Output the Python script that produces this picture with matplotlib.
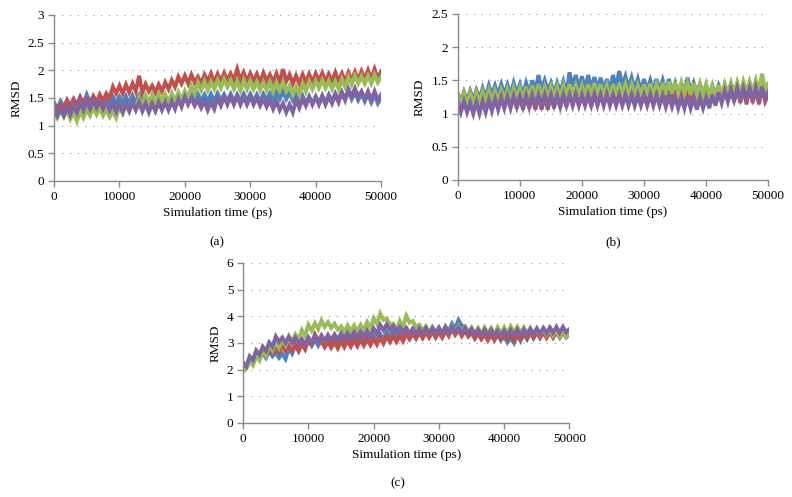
import numpy as np
import matplotlib
matplotlib.use("Agg")
import matplotlib.pyplot as plt

plt.rcParams["font.family"] = ["Liberation Serif", "DejaVu Serif"]

# time axis: one sample every 500 ps
time_ps = np.arange(0, 50001, 500)

# ---- panel (a) ----
a_blue = [1.42, 1.30, 1.44, 1.34, 1.46, 1.36, 1.48, 1.38, 1.52, 1.40,
          1.56, 1.42, 1.52, 1.40, 1.50, 1.38, 1.48, 1.36, 1.52, 1.40,
          1.52, 1.40, 1.53, 1.40, 1.54, 1.42, 1.55, 1.42, 1.54, 1.42,
          1.52, 1.40, 1.51, 1.40, 1.52, 1.40, 1.53, 1.42, 1.56, 1.44,
          1.57, 1.44, 1.58, 1.45, 1.57, 1.44, 1.56, 1.44, 1.57, 1.44,
          1.58, 1.45, 1.56, 1.44, 1.57, 1.44, 1.56, 1.44, 1.57, 1.45,
          1.57, 1.44, 1.56, 1.44, 1.57, 1.46, 1.58, 1.46, 1.60, 1.48,
          1.62, 1.48, 1.60, 1.46, 1.56, 1.42, 1.54, 1.40, 1.52, 1.40,
          1.52, 1.40, 1.54, 1.42, 1.56, 1.44, 1.58, 1.46, 1.60, 1.48,
          1.62, 1.48, 1.60, 1.46, 1.58, 1.44, 1.56, 1.42, 1.55, 1.40,
          1.50]
a_red = [1.36, 1.24, 1.38, 1.28, 1.45, 1.33, 1.47, 1.36, 1.50, 1.38,
         1.49, 1.40, 1.53, 1.42, 1.56, 1.45, 1.58, 1.50, 1.70, 1.58,
         1.72, 1.58, 1.74, 1.60, 1.76, 1.62, 1.90, 1.60, 1.75, 1.62,
         1.72, 1.60, 1.74, 1.62, 1.78, 1.66, 1.82, 1.70, 1.88, 1.76,
         1.90, 1.76, 1.92, 1.78, 1.88, 1.76, 1.92, 1.80, 1.94, 1.78,
         1.93, 1.80, 1.95, 1.81, 1.94, 1.82, 2.02, 1.82, 1.96, 1.80,
         1.94, 1.80, 1.93, 1.78, 1.95, 1.80, 1.92, 1.78, 1.94, 1.78,
         2.02, 1.80, 1.92, 1.76, 1.90, 1.76, 1.92, 1.78, 1.93, 1.78,
         1.94, 1.80, 1.95, 1.80, 1.93, 1.80, 1.96, 1.80, 1.94, 1.80,
         1.96, 1.82, 1.97, 1.82, 1.98, 1.84, 2.00, 1.84, 2.02, 1.84,
         1.98]
a_green = [1.26, 1.14, 1.28, 1.16, 1.27, 1.12, 1.24, 1.08, 1.26, 1.14,
           1.30, 1.18, 1.32, 1.20, 1.31, 1.18, 1.29, 1.16, 1.26, 1.14,
           1.34, 1.22, 1.38, 1.26, 1.42, 1.30, 1.50, 1.36, 1.54, 1.40,
           1.56, 1.42, 1.57, 1.44, 1.56, 1.42, 1.58, 1.44, 1.60, 1.46,
           1.62, 1.48, 1.72, 1.58, 1.78, 1.64, 1.80, 1.64, 1.79, 1.66,
           1.82, 1.68, 1.84, 1.70, 1.82, 1.66, 1.80, 1.64, 1.82, 1.66,
           1.81, 1.66, 1.79, 1.64, 1.78, 1.64, 1.79, 1.62, 1.78, 1.64,
           1.78, 1.62, 1.72, 1.56, 1.70, 1.56, 1.76, 1.62, 1.80, 1.66,
           1.81, 1.68, 1.82, 1.68, 1.81, 1.66, 1.80, 1.66, 1.84, 1.70,
           1.88, 1.74, 1.90, 1.76, 1.89, 1.76, 1.90, 1.76, 1.92, 1.78,
           1.88]
a_purple = [1.32, 1.18, 1.31, 1.18, 1.34, 1.20, 1.36, 1.24, 1.42, 1.28,
            1.45, 1.30, 1.46, 1.32, 1.44, 1.30, 1.42, 1.28, 1.40, 1.25,
            1.38, 1.24, 1.40, 1.26, 1.42, 1.28, 1.42, 1.26, 1.40, 1.24,
            1.40, 1.26, 1.42, 1.28, 1.42, 1.28, 1.44, 1.30, 1.48, 1.34,
            1.52, 1.38, 1.50, 1.36, 1.46, 1.32, 1.44, 1.28, 1.42, 1.30,
            1.50, 1.36, 1.52, 1.38, 1.52, 1.38, 1.53, 1.38, 1.52, 1.38,
            1.52, 1.38, 1.50, 1.36, 1.48, 1.34, 1.46, 1.30, 1.44, 1.28,
            1.40, 1.24, 1.38, 1.24, 1.46, 1.32, 1.48, 1.36, 1.52, 1.38,
            1.52, 1.38, 1.53, 1.38, 1.52, 1.40, 1.56, 1.42, 1.60, 1.46,
            1.66, 1.52, 1.67, 1.52, 1.62, 1.48, 1.62, 1.46, 1.62, 1.46,
            1.56]

# ---- panel (b) ----
b_blue = [1.30, 1.18, 1.32, 1.20, 1.34, 1.20, 1.35, 1.22, 1.38, 1.24,
          1.42, 1.28, 1.42, 1.28, 1.44, 1.28, 1.43, 1.28, 1.46, 1.30,
          1.44, 1.28, 1.46, 1.30, 1.50, 1.34, 1.58, 1.36, 1.50, 1.34,
          1.46, 1.30, 1.46, 1.32, 1.48, 1.30, 1.62, 1.40, 1.58, 1.38,
          1.56, 1.36, 1.58, 1.36, 1.55, 1.36, 1.54, 1.34, 1.52, 1.34,
          1.58, 1.40, 1.64, 1.42, 1.56, 1.38, 1.54, 1.36, 1.52, 1.34,
          1.52, 1.34, 1.50, 1.34, 1.52, 1.34, 1.50, 1.32, 1.52, 1.32,
          1.46, 1.30, 1.44, 1.30, 1.54, 1.32, 1.46, 1.30, 1.44, 1.28,
          1.42, 1.28, 1.42, 1.28, 1.42, 1.28, 1.43, 1.30, 1.44, 1.30,
          1.44, 1.30, 1.45, 1.30, 1.45, 1.30, 1.46, 1.30, 1.46, 1.30,
          1.40]
b_red = [1.28, 1.12, 1.30, 1.14, 1.30, 1.14, 1.31, 1.14, 1.32, 1.14,
         1.30, 1.12, 1.30, 1.12, 1.28, 1.10, 1.28, 1.10, 1.28, 1.08,
         1.26, 1.06, 1.26, 1.08, 1.26, 1.06, 1.28, 1.06, 1.26, 1.06,
         1.28, 1.08, 1.30, 1.10, 1.30, 1.10, 1.32, 1.12, 1.32, 1.12,
         1.33, 1.12, 1.34, 1.10, 1.36, 1.14, 1.36, 1.14, 1.34, 1.14,
         1.36, 1.14, 1.36, 1.14, 1.35, 1.14, 1.34, 1.14, 1.34, 1.14,
         1.34, 1.14, 1.34, 1.14, 1.35, 1.14, 1.36, 1.14, 1.36, 1.14,
         1.36, 1.14, 1.38, 1.16, 1.38, 1.16, 1.38, 1.14, 1.36, 1.14,
         1.36, 1.14, 1.38, 1.18, 1.38, 1.18, 1.38, 1.18, 1.38, 1.18,
         1.38, 1.16, 1.38, 1.14, 1.40, 1.16, 1.38, 1.14, 1.40, 1.18,
         1.28]
b_green = [1.28, 1.12, 1.30, 1.14, 1.30, 1.14, 1.31, 1.16, 1.32, 1.16,
           1.34, 1.18, 1.34, 1.18, 1.35, 1.20, 1.36, 1.20, 1.38, 1.22,
           1.38, 1.22, 1.40, 1.22, 1.42, 1.24, 1.44, 1.24, 1.40, 1.24,
           1.40, 1.24, 1.40, 1.24, 1.42, 1.26, 1.44, 1.26, 1.42, 1.26,
           1.42, 1.24, 1.44, 1.26, 1.46, 1.26, 1.44, 1.26, 1.42, 1.24,
           1.44, 1.26, 1.45, 1.28, 1.44, 1.26, 1.43, 1.26, 1.42, 1.26,
           1.44, 1.26, 1.45, 1.28, 1.44, 1.28, 1.46, 1.28, 1.48, 1.30,
           1.48, 1.30, 1.47, 1.30, 1.46, 1.28, 1.46, 1.28, 1.45, 1.28,
           1.44, 1.26, 1.42, 1.24, 1.43, 1.26, 1.44, 1.28, 1.46, 1.30,
           1.47, 1.30, 1.48, 1.32, 1.48, 1.32, 1.50, 1.34, 1.60, 1.36,
           1.45]
b_purple = [1.18, 1.02, 1.18, 1.02, 1.16, 1.00, 1.17, 1.00, 1.18, 1.02,
            1.20, 1.04, 1.22, 1.06, 1.24, 1.08, 1.25, 1.08, 1.26, 1.10,
            1.26, 1.10, 1.27, 1.10, 1.28, 1.12, 1.28, 1.12, 1.28, 1.12,
            1.28, 1.12, 1.27, 1.10, 1.28, 1.12, 1.28, 1.12, 1.29, 1.12,
            1.28, 1.12, 1.28, 1.12, 1.29, 1.12, 1.28, 1.12, 1.29, 1.12,
            1.28, 1.12, 1.28, 1.12, 1.28, 1.12, 1.28, 1.12, 1.28, 1.12,
            1.28, 1.12, 1.29, 1.12, 1.28, 1.12, 1.27, 1.10, 1.26, 1.10,
            1.25, 1.08, 1.24, 1.08, 1.26, 1.08, 1.24, 1.06, 1.24, 1.08,
            1.24, 1.08, 1.28, 1.12, 1.32, 1.16, 1.34, 1.18, 1.36, 1.20,
            1.38, 1.22, 1.38, 1.22, 1.38, 1.22, 1.39, 1.22, 1.40, 1.22,
            1.32]

# ---- panel (c) ----
c_blue = [2.00, 2.08, 2.36, 2.20, 2.58, 2.40, 2.62, 2.44, 2.70, 2.50,
          2.64, 2.44, 2.60, 2.40, 2.80, 2.60, 2.92, 2.70, 3.02, 2.80,
          3.10, 2.90, 3.12, 2.90, 3.12, 2.90, 3.14, 2.94, 3.16, 2.96,
          3.20, 2.98, 3.22, 3.00, 3.20, 3.00, 3.22, 3.00, 3.24, 3.02,
          3.26, 3.04, 3.34, 3.12, 3.42, 3.20, 3.48, 3.26, 3.50, 3.30,
          3.52, 3.30, 3.50, 3.30, 3.52, 3.30, 3.52, 3.32, 3.54, 3.34,
          3.56, 3.36, 3.62, 3.44, 3.72, 3.54, 3.86, 3.64, 3.62, 3.40,
          3.50, 3.28, 3.44, 3.22, 3.40, 3.20, 3.36, 3.14, 3.30, 3.10,
          3.24, 3.02, 3.20, 3.00, 3.30, 3.08, 3.36, 3.14, 3.40, 3.18,
          3.42, 3.20, 3.42, 3.20, 3.44, 3.22, 3.44, 3.24, 3.42, 3.22,
          3.32]
c_red = [2.02, 2.10, 2.38, 2.24, 2.58, 2.42, 2.70, 2.52, 2.80, 2.62,
         2.86, 2.66, 2.90, 2.70, 2.90, 2.70, 2.92, 2.70, 2.96, 2.76,
         3.16, 2.96, 3.32, 3.10, 3.06, 2.84, 3.04, 2.82, 3.02, 2.80,
         3.06, 2.84, 3.08, 2.86, 3.10, 2.88, 3.12, 2.90, 3.14, 2.92,
         3.16, 2.94, 3.20, 2.98, 3.26, 3.04, 3.26, 3.04, 3.26, 3.06,
         3.34, 3.14, 3.36, 3.16, 3.40, 3.18, 3.40, 3.20, 3.42, 3.20,
         3.40, 3.20, 3.46, 3.26, 3.52, 3.30, 3.48, 3.26, 3.46, 3.24,
         3.38, 3.16, 3.36, 3.14, 3.32, 3.10, 3.30, 3.10, 3.34, 3.14,
         3.36, 3.14, 3.32, 3.10, 3.32, 3.12, 3.38, 3.18, 3.40, 3.20,
         3.42, 3.20, 3.40, 3.20, 3.42, 3.20, 3.40, 3.20, 3.42, 3.22,
         3.34]
c_green = [1.92, 2.04, 2.30, 2.16, 2.52, 2.34, 2.72, 2.52, 2.92, 2.72,
           3.02, 2.82, 3.12, 2.92, 3.26, 3.06, 3.32, 3.12, 3.48, 3.26,
           3.68, 3.46, 3.74, 3.52, 3.84, 3.60, 3.78, 3.56, 3.72, 3.50,
           3.62, 3.40, 3.66, 3.44, 3.66, 3.44, 3.68, 3.46, 3.78, 3.56,
           3.92, 3.70, 4.10, 3.86, 3.92, 3.70, 3.72, 3.50, 3.82, 3.60,
           4.02, 3.76, 3.82, 3.60, 3.68, 3.46, 3.62, 3.40, 3.60, 3.40,
           3.58, 3.36, 3.60, 3.38, 3.62, 3.40, 3.62, 3.40, 3.60, 3.40,
           3.58, 3.36, 3.56, 3.34, 3.58, 3.36, 3.56, 3.34, 3.58, 3.36,
           3.58, 3.36, 3.62, 3.40, 3.60, 3.38, 3.58, 3.36, 3.56, 3.34,
           3.54, 3.32, 3.52, 3.30, 3.50, 3.28, 3.46, 3.24, 3.44, 3.24,
           3.34]
c_purple = [2.26, 2.12, 2.50, 2.36, 2.72, 2.56, 2.86, 2.70, 3.02, 2.86,
            3.24, 3.04, 3.20, 3.00, 3.22, 3.00, 3.20, 2.98, 3.14, 2.94,
            3.20, 3.00, 3.24, 3.04, 3.28, 3.08, 3.30, 3.10, 3.32, 3.12,
            3.36, 3.16, 3.38, 3.18, 3.40, 3.20, 3.42, 3.22, 3.46, 3.24,
            3.54, 3.34, 3.68, 3.48, 3.70, 3.50, 3.64, 3.44, 3.60, 3.40,
            3.56, 3.36, 3.54, 3.34, 3.54, 3.34, 3.56, 3.36, 3.56, 3.36,
            3.56, 3.36, 3.58, 3.38, 3.60, 3.40, 3.58, 3.38, 3.56, 3.36,
            3.52, 3.32, 3.50, 3.30, 3.50, 3.30, 3.48, 3.28, 3.46, 3.26,
            3.46, 3.26, 3.48, 3.28, 3.50, 3.30, 3.50, 3.30, 3.52, 3.32,
            3.54, 3.34, 3.56, 3.36, 3.58, 3.38, 3.60, 3.38, 3.60, 3.40,
            3.52]

COLORS = ["#4F81BD", "#C0504D", "#9BBB59", "#8064A2"]
GRAY = "#8c8c8c"
FS = 9.5


def draw_panel(ax, series, ymax, ystep):
    for values, color in zip(series, COLORS):
        ax.plot(time_ps, values, color=color, linewidth=2.8,
                solid_joinstyle="miter")

    yticks = np.arange(0, ymax + ystep / 2, ystep)
    for y in yticks[1:]:
        ax.axhline(y, color="#9a9a9a", linewidth=0.8,
                   linestyle=(0, (1, 6)), zorder=0)

    ax.set_xlim(0, 50000)
    ax.set_ylim(0, ymax)
    ax.set_xticks(np.arange(0, 50001, 10000))
    ax.set_yticks(yticks)
    ax.set_yticklabels([f"{v:g}" for v in yticks])
    for side in ["top", "right"]:
        ax.spines[side].set_visible(False)
    for side in ["left", "bottom"]:
        ax.spines[side].set_color(GRAY)
        ax.spines[side].set_linewidth(1.0)
        ax.spines[side].set_zorder(5)
    ax.tick_params(direction="out", length=4, width=1.0, color=GRAY,
                   labelsize=FS, pad=3)
    ax.set_xlabel("Simulation time (ps)", fontsize=FS, labelpad=3)
    ax.set_ylabel("RMSD", fontsize=FS, labelpad=4)


fig = plt.figure(figsize=(7.92, 4.97), dpi=100)

ax_a = fig.add_axes([0.0682, 0.636, 0.413, 0.334])
ax_b = fig.add_axes([0.578, 0.638, 0.392, 0.334])
ax_c = fig.add_axes([0.307, 0.149, 0.412, 0.322])

draw_panel(ax_a, [a_blue, a_red, a_green, a_purple], 3, 0.5)
draw_panel(ax_b, [b_blue, b_red, b_green, b_purple], 2.5, 0.5)
draw_panel(ax_c, [c_blue, c_red, c_green, c_purple], 6, 1)

fig.text(217 / 792, 1 - 242 / 497, "(a)", ha="center", va="center", fontsize=FS)
fig.text(613 / 792, 1 - 242 / 497, "(b)", ha="center", va="center", fontsize=FS)
fig.text(398 / 792, 1 - 483 / 497, "(c)", ha="center", va="center", fontsize=FS)

fig.savefig("out.png", dpi=100)
